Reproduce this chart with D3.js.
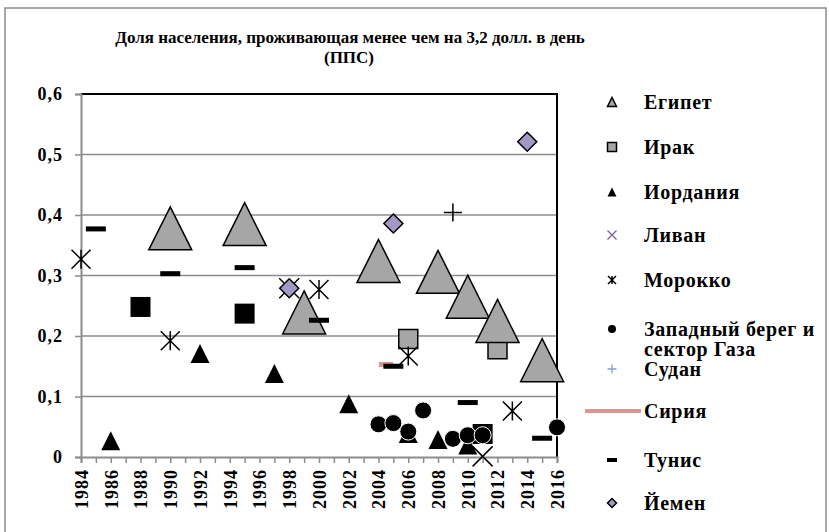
<!DOCTYPE html>
<html>
<head>
<meta charset="utf-8">
<script src="https://cdn.jsdelivr.net/npm/d3@7"></script>
<style>
  body { margin: 0; background: #fff; }
</style>
</head>
<body>
<div id="chart"></div>
<script>
// Data: [year, share]
var egypt   = [[1990, 0.378], [1995, 0.385], [1999, 0.239], [2004, 0.324], [2008, 0.306], [2010, 0.265], [2012, 0.225], [2015, 0.160]];
var iraq    = [[2006, 0.195], [2012, 0.178]];
var jordan  = [[1986, 0.027], [1992, 0.171], [1997, 0.138], [2002, 0.088], [2006, 0.039], [2008, 0.029], [2010, 0.020]];
var lebanon = [[1998, 0.279], [2011, 0.001]];
var morocco = [[1984, 0.327], [1990, 0.192], [2000, 0.277], [2006, 0.167], [2013, 0.076]];
var westBank = [[2004, 0.054], [2005, 0.056], [2006, 0.042], [2007, 0.077], [2009, 0.030], [2010, 0.036], [2011, 0.036], [2016, 0.049]];
var sudan   = [[2009, 0.404]];
var syria   = [[2004.5, 0.153]];
var tunisia = [[1985, 0.377], [1990, 0.303], [1995, 0.313], [2000, 0.226], [2005, 0.150], [2010, 0.090], [2015, 0.031]];
var yemen   = [[1998, 0.279], [2005, 0.386], [2014, 0.521]];
var unlabeled = [[1988, 0.248], [1995, 0.237], [2011, 0.038]];   // black squares, not in legend

var yTicks = [0, 0.1, 0.2, 0.3, 0.4, 0.5, 0.6];
var legendNames = ["Египет", "Ирак", "Иордания", "Ливан", "Морокко", "Западный берег и|сектор Газа", "Судан", "Сирия", "Тунис", "Йемен"];

var FONT = '"Liberation Serif", "Times New Roman", serif';

var svgWidth = 829, svgHeight = 532;
var margin = { top: 94, right: 272, bottom: 75, left: 81 };

var svg = d3.select("#chart").append("svg")
  .attr("width", svgWidth)
  .attr("height", svgHeight);

// outer chart border
svg.append("rect")
  .attr("x", 5).attr("y", 8)
  .attr("width", 821).attr("height", 540)
  .attr("fill", "none").attr("stroke", "#8c8c8c").attr("stroke-width", 1.5);

var x = d3.scaleLinear().domain([1984, 2016]).range([margin.left, svgWidth - margin.right]);
var y = d3.scaleLinear().domain([0, 0.6]).range([svgHeight - margin.bottom, margin.top]);

function label(sel, size, spacing) {
  return sel.style("font-family", FONT).style("font-weight", "bold")
    .style("font-size", size + "px").style("letter-spacing", (spacing || 0) + "px")
    .attr("fill", "#000");
}

// title
label(svg.append("text").attr("x", 350).attr("y", 43).attr("text-anchor", "middle"), 17)
  .text("Доля населения, проживающая менее чем на 3,2 долл. в день");
label(svg.append("text").attr("x", 349).attr("y", 63).attr("text-anchor", "middle"), 17)
  .text("(ППС)");

// gridlines
svg.append("g").selectAll("line")
  .data(yTicks.slice(1, -1))
  .enter().append("line")
  .attr("x1", x(1984)).attr("x2", x(2016))
  .attr("y1", d => y(d)).attr("y2", d => y(d))
  .attr("stroke", "#8c8c8c").attr("stroke-width", 1.5);

// top and right border of plot area (black)
svg.append("path")
  .attr("d", `M${x(1984)},${y(0.6)}H${x(2016)}V${y(0)}`)
  .attr("fill", "none").attr("stroke", "#000").attr("stroke-width", 2);

// axes
var fmt = d => d === 0 ? "0" : d3.format(".1f")(d).replace(".", ",");
var leftAxis = d3.axisLeft(y).tickValues(yTicks).tickFormat(fmt).tickSize(6).tickPadding(12);
var bottomAxis = d3.axisBottom(x).tickValues(d3.range(1984, 2017, 1))
  .tickFormat(d => d % 2 === 0 ? d : "").tickSize(6);

var gy = svg.append("g").attr("transform", `translate(${x(1984)},0)`).call(leftAxis);
gy.select(".domain").attr("stroke", "#8c8c8c").attr("stroke-width", 2);
gy.selectAll(".tick line").attr("stroke", "#8c8c8c").attr("stroke-width", 1.5);
label(gy.selectAll("text"), 18, 1);

var gx = svg.append("g").attr("transform", `translate(0,${y(0)})`).call(bottomAxis);
gx.select(".domain").attr("stroke", "#8c8c8c").attr("stroke-width", 2);
gx.selectAll(".tick line").attr("stroke", "#8c8c8c").attr("stroke-width", 1.5);
label(gx.selectAll("text"), 18, 1)
  .attr("transform", "rotate(-90)")
  .attr("text-anchor", "end")
  .attr("x", -12).attr("y", 0).attr("dy", "0.35em");

// marker shapes, centred on the bounding box
function shape(type, s) {
  var h = s / 2;
  switch (type) {
    case "triangle": return `M0,${-h}L${h},${h}L${-h},${h}Z`;
    case "square": return `M${-h},${-h}H${h}V${h}H${-h}Z`;
    case "diamond": return `M0,${-h}L${h},0L0,${h}L${-h},0Z`;
    case "x": return `M${-h},${-h}L${h},${h}M${h},${-h}L${-h},${h}`;
    case "asterisk": return `M${-h},${-h}L${h},${h}M${h},${-h}L${-h},${h}M0,${-h}V${h}`;
    case "plus": return `M${-h},0H${h}M0,${-h}V${h}`;
    case "circle": return `M${h},0A${h},${h} 0 1,1 ${-h},0A${h},${h} 0 1,1 ${h},0Z`;
  }
}

function dots(data, type, size, fill, stroke, sw) {
  svg.append("g").selectAll("path")
    .data(data)
    .enter().append("path")
    .attr("transform", d => `translate(${x(d[0])},${y(d[1])})`)
    .attr("d", shape(type, size))
    .attr("fill", fill)
    .attr("stroke", stroke)
    .attr("stroke-width", sw)
    .attr("stroke-linejoin", "miter");
}

function dashes(data, w, h, color) {
  svg.append("g").selectAll("rect")
    .data(data)
    .enter().append("rect")
    .attr("x", d => x(d[0]) - w / 2)
    .attr("y", d => y(d[1]) - h / 2)
    .attr("width", w).attr("height", h)
    .attr("fill", color);
}

dots(iraq, "square", 19, "#a6a6a6", "#000", 1.5);
dots(egypt, "triangle", 43, "#a6a6a6", "#000", 1.5);
dots(jordan, "triangle", 19, "#000", "none", 0);
dots(lebanon, "x", 20, "none", "#000", 1.5);
dots(morocco, "asterisk", 19, "none", "#000", 1.5);
dots(unlabeled, "square", 20, "#000", "none", 0);
dots(westBank, "circle", 17, "#000", "#fff", 1);
dots(sudan, "plus", 18, "none", "#000", 1.5);
dashes(syria, 14, 5, "#d99694");
dashes(tunisia, 20, 5, "#000");
dots(yemen, "diamond", 19, "#a498c6", "#000", 1.5);

// legend
var legendX = 612, textX = 644;
var rowsY = [102, 147, 192, 235, 280, 329, 369, 411, 460, 503];
var legendShapes = [
  { type: "triangle", s: 9, fill: "#a6a6a6", stroke: "#000", sw: 1.5 },
  { type: "square", s: 9, fill: "#a6a6a6", stroke: "#000", sw: 1.5 },
  { type: "triangle", s: 9, fill: "#000", stroke: "none", sw: 0 },
  { type: "x", s: 9, fill: "none", stroke: "#7b61a3", sw: 1.3 },
  { type: "asterisk", s: 8, fill: "none", stroke: "#000", sw: 1.5 },
  { type: "circle", s: 8, fill: "#000", stroke: "none", sw: 0 },
  { type: "plus", s: 9, fill: "none", stroke: "#7f9fd4", sw: 1.3 },
  { type: "line" },
  { type: "dash" },
  { type: "diamond", s: 9, fill: "#a498c6", stroke: "#000", sw: 1.5 }
];

var legend = svg.append("g");
legendNames.forEach(function(name, i) {
  var cy = rowsY[i], m = legendShapes[i];
  if (m.type === "line") {
    legend.append("line").attr("x1", 585).attr("x2", 641).attr("y1", cy).attr("y2", cy)
      .attr("stroke", "#d99694").attr("stroke-width", 4);
  } else if (m.type === "dash") {
    legend.append("rect").attr("x", legendX - 5).attr("y", cy - 2).attr("width", 10).attr("height", 4).attr("fill", "#000");
  } else {
    legend.append("path").attr("transform", `translate(${legendX},${cy})`)
      .attr("d", shape(m.type, m.s)).attr("fill", m.fill).attr("stroke", m.stroke).attr("stroke-width", m.sw);
  }
  var lines = name.split("|");
  lines.forEach(function(l, j) {
    label(legend.append("text"), 20, 0.7)
      .attr("x", textX).attr("y", cy + j * 20).attr("dy", "0.35em").text(l);
  });
});
</script>
</body>
</html>
